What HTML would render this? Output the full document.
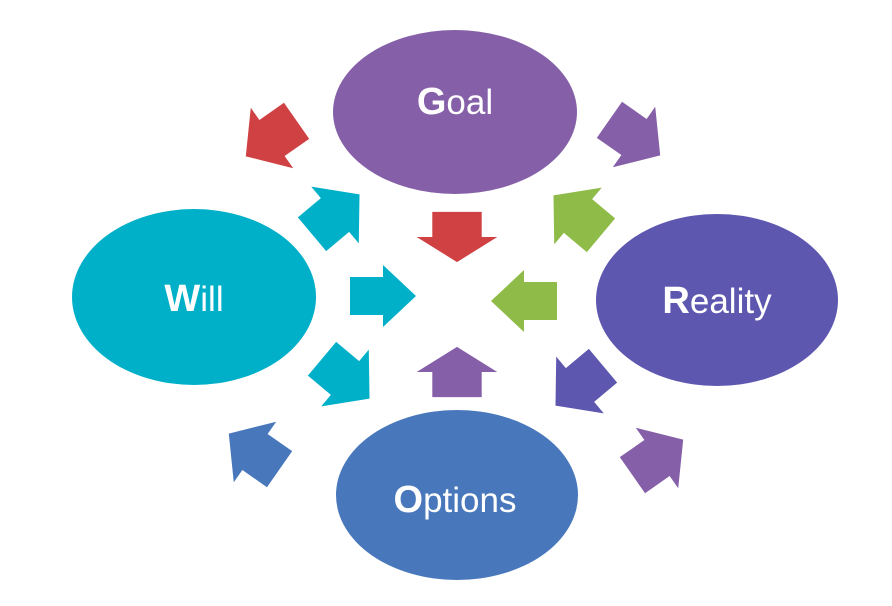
<!DOCTYPE html>
<html><head><meta charset="utf-8"><style>
html,body{margin:0;padding:0;background:#fff;}
svg{display:block;}
text{font-family:"Liberation Sans",sans-serif;fill:#fff;font-size:35px;}
</style></head><body>
<svg width="892" height="606" viewBox="0 0 892 606" xmlns="http://www.w3.org/2000/svg">
<defs>
<polygon id="ar" points="-33,-19 0,-19 0,-31 33,0 0,31 0,19 -33,19"/>
<polygon id="dr" points="-30,-22 0,-22 0,-37 32,0 0,37 0,22 -30,22"/>
</defs>
<ellipse cx="455" cy="112" rx="122" ry="82" fill="#8560a8"/>
<ellipse cx="194" cy="297" rx="122" ry="88" fill="#00afc8"/>
<ellipse cx="717" cy="300" rx="121" ry="86" fill="#5e57b0"/>
<ellipse cx="457" cy="495" rx="121" ry="85" fill="#4878bb"/>
<text x="455" y="114" text-anchor="middle"><tspan font-weight="bold" font-size="38">G</tspan>oal</text>
<text x="194" y="311" text-anchor="middle"><tspan font-weight="bold" font-size="38">W</tspan>ill</text>
<text x="717" y="313" text-anchor="middle"><tspan font-weight="bold" font-size="38">R</tspan>eality</text>
<text x="455" y="512" text-anchor="middle"><tspan font-weight="bold" font-size="38">O</tspan>ptions</text>
<use href="#ar" fill="#d04144" transform="translate(457,237) rotate(90) scale(0.76,1.3)"/>
<use href="#ar" fill="#00afc8" transform="translate(383,296)"/>
<use href="#ar" fill="#8fbb48" transform="translate(524,301) rotate(180)"/>
<use href="#ar" fill="#8560a8" transform="translate(457,372) rotate(-90) scale(0.76,1.3)"/>
<use href="#dr" fill="#d04144" transform="translate(272,138) rotate(145)"/>
<use href="#dr" fill="#8560a8" transform="translate(634,137) rotate(35)"/>
<use href="#dr" fill="#00afc8" transform="translate(335,215) rotate(-40)"/>
<use href="#dr" fill="#8fbb48" transform="translate(578,216) rotate(-140)"/>
<use href="#dr" fill="#00afc8" transform="translate(345,378) rotate(40)"/>
<use href="#dr" fill="#5e57b0" transform="translate(580,385) rotate(140)"/>
<use href="#dr" fill="#4878bb" transform="translate(255,452) rotate(-145)"/>
<use href="#dr" fill="#8560a8" transform="translate(657,458) rotate(-35)"/>
</svg>
</body></html>
